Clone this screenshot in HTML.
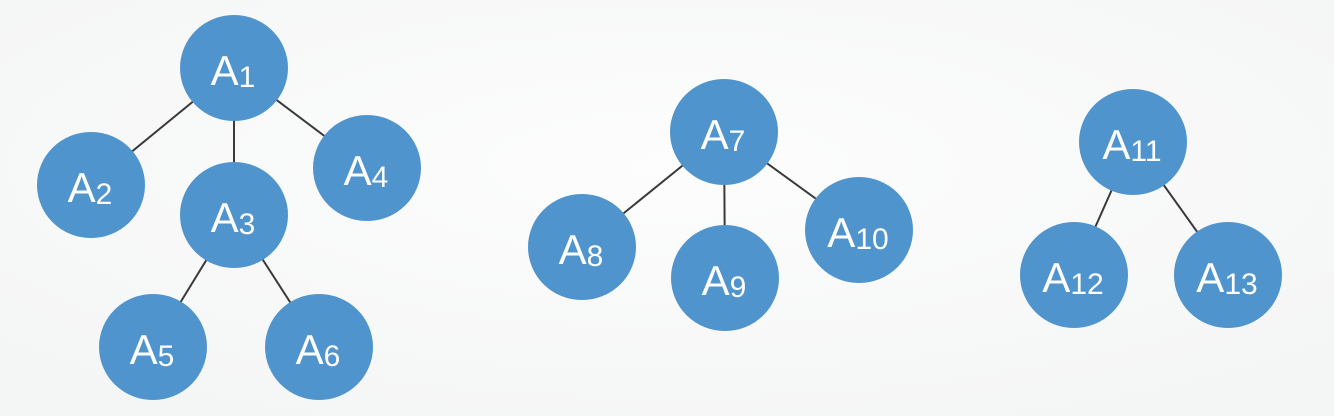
<!DOCTYPE html>
<html><head><style>
html,body{margin:0;padding:0;background:#fafbfb;}
svg{display:block}
text{font-family:"Liberation Sans",sans-serif;fill:#fff;}
</style></head><body>
<svg width="1334" height="416" viewBox="0 0 1334 416">
<defs><radialGradient id="bg" cx="50%" cy="40%" r="70%"><stop offset="0" stop-color="#fdfdfd"/><stop offset="1" stop-color="#f4f5f5"/></radialGradient></defs>
<rect width="1334" height="416" fill="url(#bg)"/>
<g stroke="#3a3a3a" stroke-width="2">
<line x1="234" y1="68" x2="91" y2="185"/><line x1="234" y1="68" x2="234" y2="215"/><line x1="234" y1="68" x2="367" y2="168"/>
<line x1="234" y1="215" x2="153" y2="347"/><line x1="234" y1="215" x2="319" y2="347"/>
<line x1="724" y1="132" x2="582" y2="247"/><line x1="724" y1="132" x2="725" y2="278"/><line x1="724" y1="132" x2="859" y2="230"/>
<line x1="1133" y1="142" x2="1074" y2="275"/><line x1="1133" y1="142" x2="1228" y2="275"/>
</g>
<g fill="#5094cd">
<ellipse cx="234" cy="68" rx="54" ry="53"/><ellipse cx="91" cy="185" rx="54" ry="53"/><ellipse cx="234" cy="215" rx="54" ry="53"/><ellipse cx="367" cy="168" rx="54" ry="53"/>
<ellipse cx="153" cy="347" rx="54" ry="53"/><ellipse cx="319" cy="347" rx="54" ry="53"/>
<ellipse cx="724" cy="132" rx="54" ry="53"/><ellipse cx="582" cy="247" rx="54" ry="53"/><ellipse cx="725" cy="278" rx="54" ry="53"/><ellipse cx="859" cy="230" rx="54" ry="53"/>
<ellipse cx="1133" cy="142" rx="54" ry="53"/><ellipse cx="1074" cy="275" rx="54" ry="53"/><ellipse cx="1228" cy="275" rx="54" ry="53"/>
</g>
<g font-size="42" text-anchor="middle">
<text x="233" y="85">A<tspan font-size="30" dy="2">1</tspan></text>
<text x="90" y="202">A<tspan font-size="30" dy="2">2</tspan></text>
<text x="233" y="232">A<tspan font-size="30" dy="2">3</tspan></text>
<text x="366" y="185">A<tspan font-size="30" dy="2">4</tspan></text>
<text x="152" y="364">A<tspan font-size="30" dy="2">5</tspan></text>
<text x="318" y="364">A<tspan font-size="30" dy="2">6</tspan></text>
<text x="723" y="149">A<tspan font-size="30" dy="2">7</tspan></text>
<text x="581" y="264">A<tspan font-size="30" dy="2">8</tspan></text>
<text x="724" y="295">A<tspan font-size="30" dy="2">9</tspan></text>
<text x="858" y="247">A<tspan font-size="30" dy="2">10</tspan></text>
<text x="1132" y="159">A<tspan font-size="30" dy="2">11</tspan></text>
<text x="1073" y="292">A<tspan font-size="30" dy="2">12</tspan></text>
<text x="1227" y="292">A<tspan font-size="30" dy="2">13</tspan></text>
</g>
</svg>
</body></html>
